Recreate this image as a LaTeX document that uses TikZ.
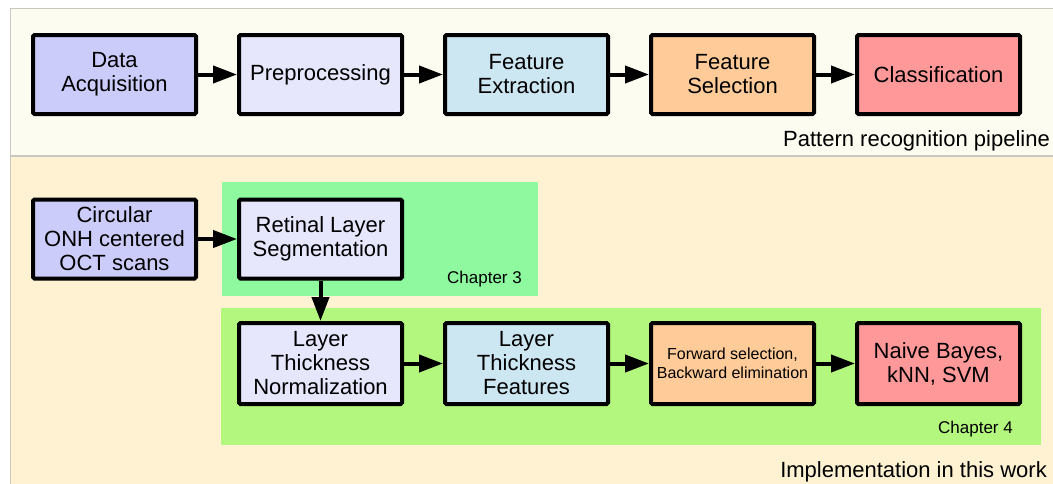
\documentclass[tikz,border=0pt]{standalone}
\usepackage{fontspec}
\setmainfont{Liberation Sans}
\usetikzlibrary{positioning,arrows.meta}
\definecolor{topbg}{HTML}{FCFCF0}
\definecolor{botbg}{HTML}{FEF2D2}
\definecolor{panelline}{HTML}{C8C8C0}
\definecolor{acqfill}{HTML}{CCCCFA}
\definecolor{prefill}{HTML}{E6E6FC}
\definecolor{extfill}{HTML}{CCE6F2}
\definecolor{selfill}{HTML}{FFCC99}
\definecolor{clsfill}{HTML}{FF9999}
\definecolor{chapthree}{HTML}{8EF99E}
\definecolor{chapfour}{HTML}{B4F77E}
\tikzstyle{stage}=[rectangle,draw,line width=4pt,rounded corners=1.5pt,minimum width=163pt,minimum height=79pt,align=center,inner sep=2pt,font=\fontsize{22}{24}\selectfont]
\tikzstyle{flow}=[line width=4pt,-{Triangle[length=24pt,width=17pt]}]
\tikzstyle{caption}=[anchor=base east,inner sep=0pt,font=\fontsize{22}{24}\selectfont]
\tikzstyle{chapter}=[anchor=base east,inner sep=0pt,font=\fontsize{17}{19}\selectfont]

\begin{document}
\begin{tikzpicture}[x=1pt,y=-1pt,node distance=39pt]
        \useasboundingbox (0,0) rectangle (1053,483);
        % panels
        \draw[panelline,fill=topbg] (10,8) rectangle (1070,155);
        \draw[panelline,fill=botbg] (10,156) rectangle (1070,500);
        \fill[chapthree] (222,182) rectangle (538,296);
        \fill[chapfour] (221,308) rectangle (1041,445);

        % pattern recognition pipeline
        \node[stage,fill=acqfill] (acq) at (114.5,74.5) {Data\\Acquisition};
        \node[stage,fill=prefill,right=of acq] (pre) {Preprocessing};
        \node[stage,fill=extfill,right=of pre] (ext) {Feature\\Extraction};
        \node[stage,fill=selfill,right=of ext] (sel) {Feature\\Selection};
        \node[stage,fill=clsfill,right=of sel] (cls) {Classification};
        \draw[flow] (acq) -- (pre);
        \draw[flow] (pre) -- (ext);
        \draw[flow] (ext) -- (sel);
        \draw[flow] (sel) -- (cls);
        \node[caption] (pipe) at (1050,146) {Pattern recognition pipeline};

        % implementation
        \node[stage,fill=acqfill] (scans) at (114.5,239) {Circular\\ONH centered\\OCT scans};
        \node[stage,fill=prefill,right=of scans] (seg) {Retinal Layer\\Segmentation};
        \node[stage,fill=prefill,minimum height=81pt] (norm) at (320.5,363.5) {Layer\\Thickness\\Normalization};
        \node[stage,fill=extfill,minimum height=81pt,right=of norm] (feat) {Layer\\Thickness\\Features};
        \node[stage,fill=selfill,minimum height=81pt,right=of feat,font=\fontsize{16}{19}\selectfont] (fwd) {Forward selection,\\Backward elimination};
        \node[stage,fill=clsfill,minimum height=81pt,right=of fwd] (bayes) {Naive Bayes,\\kNN, SVM};
        \draw[flow] (scans) -- (seg);
        \draw[flow] (seg) -- (norm);
        \draw[flow] (norm) -- (feat);
        \draw[flow] (feat) -- (fwd);
        \draw[flow] (fwd) -- (bayes);
        \node[chapter] (ch3) at (522,283) {Chapter 3};
        \node[chapter] (ch4) at (1013,433) {Chapter 4};
        \node[caption] (impl) at (1047,477) {Implementation in this work};
\end{tikzpicture}
\end{document}
